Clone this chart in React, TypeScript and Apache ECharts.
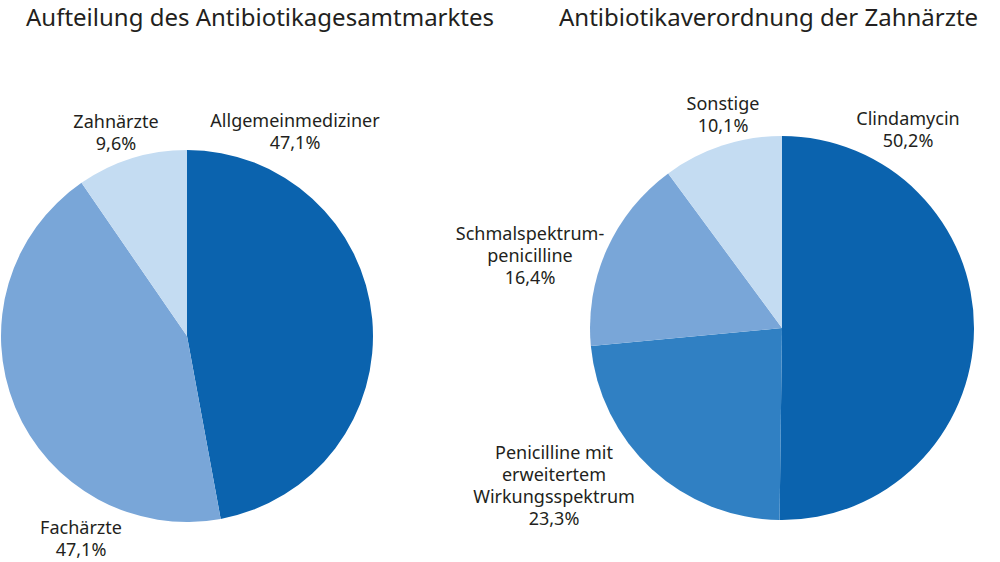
import * as echarts from 'echarts';
import { useEffect, useRef } from 'react';

// Linkes Diagramm: Aufteilung des Antibiotikagesamtmarktes
const marktKategorien = ['Allgemeinmediziner', 'Fachärzte', 'Zahnärzte'];
const marktWerte = [47.1, 43.3, 9.6]; // Winkel
const marktBeschriftung = ['47,1%', '47,1%', '9,6%']; // so gedruckt

// Rechtes Diagramm: Antibiotikaverordnung der Zahnärzte
const zahnKategorien = [
  'Clindamycin',
  'Penicilline mit\nerweitertem\nWirkungsspektrum',
  'Schmalspektrum-\npenicilline',
  'Sonstige',
];
const zahnWerte = [50.2, 23.3, 16.4, 10.1];
const zahnBeschriftung = ['50,2%', '23,3%', '16,4%', '10,1%'];

const titel = ['Aufteilung des Antibiotikagesamtmarktes', 'Antibiotikaverordnung der Zahnärzte'];

const FONT = '"Noto Sans", sans-serif';
const TEXT = '#231f20';

const App = () => {
  const chartRef = useRef(null);

  useEffect(() => {
    const chart = echarts.init(chartRef.current, null, { renderer: 'svg' });

    // Lage der Beschriftungen (Mittelpunkt des Textblocks)
    const labelPos = [
      [
        [295, 131],
        [81, 538],
        [116, 132],
      ],
      [
        [908, 129],
        [554, 485],
        [530, 255],
        [723, 114],
      ],
    ];

    const pieBase = {
      type: 'pie',
      startAngle: 90,
      clockwise: true,
      avoidLabelOverlap: false,
      emphasis: { disabled: true },
      itemStyle: { borderWidth: 0 },
      labelLine: { show: false },
      label: {
        show: true,
        position: 'outside',
        color: TEXT,
        fontFamily: FONT,
        fontSize: 18,
        lineHeight: 22,
        align: 'center',
      },
      labelLayout: (params) => {
        const p = labelPos[params.seriesIndex][params.dataIndex];
        return { x: p[0], y: p[1], align: 'center', verticalAlign: 'middle' };
      },
    };

    const option = {
      animation: false,
      backgroundColor: '#ffffff',
      title: [
        {
          text: titel[0],
          left: 21,
          top: -1,
          textStyle: { fontFamily: FONT, fontSize: 24, fontWeight: 'normal', color: TEXT },
        },
        {
          text: titel[1],
          left: 554,
          top: -1,
          textStyle: { fontFamily: FONT, fontSize: 24, fontWeight: 'normal', color: TEXT },
        },
      ],
      series: [
        {
          ...pieBase,
          center: [187, 336],
          radius: 186,
          color: ['#0b63ae', '#79a6d8', '#c4dcf2'],
          label: {
            ...pieBase.label,
            formatter: (p) => p.name + '\n' + marktBeschriftung[p.dataIndex],
          },
          data: marktKategorien.map((name, i) => ({ name, value: marktWerte[i] })),
        },
        {
          ...pieBase,
          center: [782, 328],
          radius: 192,
          color: ['#0b63ae', '#3080c3', '#79a6d8', '#c4dcf2'],
          label: {
            ...pieBase.label,
            formatter: (p) => p.name + '\n' + zahnBeschriftung[p.dataIndex],
          },
          data: zahnKategorien.map((name, i) => ({ name, value: zahnWerte[i] })),
        },
      ],
    };

    chart.setOption(option);

    return () => {
      chart.dispose();
    };
  }, []);

  return (
    <div
      ref={chartRef}
      style={{ position: 'absolute', left: 0, top: 0, width: '1000px', height: '562px' }}
    />
  );
};

export default App;
